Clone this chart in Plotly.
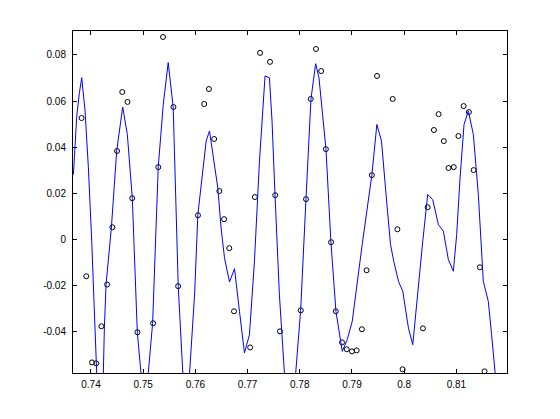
import plotly.graph_objects as go

# fitted curve (blue line)
line_x = [0.73664, 0.73728, 0.73779, 0.73823, 0.73887, 0.73951, 0.74015, 0.74059, 0.74110, 0.74174,
          0.74237, 0.74257, 0.74289, 0.74391, 0.74493, 0.74608, 0.74697, 0.74792, 0.74888, 0.74958,
          0.75028, 0.75098, 0.75181, 0.75289, 0.75385, 0.75480, 0.75576, 0.75672, 0.75723, 0.75742,
          0.75799, 0.75889, 0.75985, 0.76048, 0.76143, 0.76207, 0.76271, 0.76335, 0.76430, 0.76493,
          0.76558, 0.76654, 0.76750, 0.76845, 0.76941, 0.77036, 0.77132, 0.77228, 0.77335, 0.77419,
          0.77469, 0.77526, 0.77610, 0.77706, 0.77800, 0.77922, 0.78017, 0.78119, 0.78215, 0.78304,
          0.78368, 0.78502, 0.78597, 0.78693, 0.78814, 0.78910, 0.79005, 0.79196, 0.79381, 0.79477,
          0.79566, 0.79642, 0.79738, 0.79801, 0.79866, 0.79891, 0.79973, 0.80082, 0.80165, 0.80254,
          0.80356, 0.80451, 0.80547, 0.80656, 0.80751, 0.80847, 0.80943, 0.81006, 0.81071, 0.81147,
          0.81229, 0.81325, 0.81421, 0.81516, 0.81612, 0.81675, 0.81740, 0.81900]
line_y = [0.0281, 0.0535, 0.0636, 0.0701, 0.0557, 0.0310, -0.0009, -0.0270, -0.0581, -0.0750,
          -0.0581, -0.0386, -0.0197, 0.0049, 0.0383, 0.0574, 0.0455, 0.0178, -0.0404, -0.0581,
          -0.0750, -0.0581, -0.0365, 0.0313, 0.0585, 0.0767, 0.0571, -0.0204, -0.0473, -0.0581,
          -0.0750, -0.0581, -0.0241, 0.0107, 0.0310, 0.0426, 0.0470, 0.0368, 0.0223, 0.0049,
          -0.0081, -0.0186, -0.0128, -0.0313, -0.0494, -0.0415, -0.0096, 0.0339, 0.0709, 0.0701,
          0.0513, 0.0191, -0.0241, -0.0581, -0.0750, -0.0581, -0.0309, 0.0174, 0.0609, 0.0762,
          0.0701, 0.0391, -0.0013, -0.0313, -0.0487, -0.0436, -0.0357, -0.0023, 0.0278, 0.0498,
          0.0426, 0.0223, -0.0023, -0.0096, -0.0154, -0.0183, -0.0226, -0.0386, -0.0458, -0.0241,
          -0.0009, 0.0194, 0.0172, 0.0063, 0.0035, -0.0089, -0.0139, 0.0020, 0.0267, 0.0498,
          0.0557, 0.0455, 0.0194, -0.0183, -0.0270, -0.0415, -0.0574, -0.0750]

# measured samples (black circles)
obs_x = [0.7382, 0.7391, 0.7402, 0.7410, 0.7420, 0.7431, 0.7441, 0.7450, 0.7460, 0.7470,
         0.7479, 0.7489, 0.7519, 0.7529, 0.7538, 0.7558, 0.7567, 0.7605, 0.7617, 0.7626,
         0.7636, 0.7646, 0.7655, 0.7665, 0.7674, 0.7705, 0.7714, 0.7724, 0.7743, 0.7753,
         0.7762, 0.7802, 0.7812, 0.7821, 0.7831, 0.7841, 0.7850, 0.7860, 0.7869, 0.7881,
         0.7890, 0.7900, 0.7909, 0.7919, 0.7928, 0.7938, 0.7948, 0.7978, 0.7987, 0.7997,
         0.8036, 0.8045, 0.8057, 0.8066, 0.8076, 0.8085, 0.8095, 0.8104, 0.8114, 0.8124,
         0.8133, 0.8145, 0.8154]
obs_y = [0.0526, -0.0161, -0.0535, -0.0539, -0.0378, -0.0197, 0.0052, 0.0383, 0.0639, 0.0596,
         0.0178, -0.0404, -0.0365, 0.0313, 0.0878, 0.0574, -0.0204, 0.0104, 0.0587, 0.0652,
         0.0435, 0.0209, 0.0087, -0.0039, -0.0313, -0.0470, 0.0183, 0.0809, 0.0770, 0.0191,
         -0.0400, -0.0309, 0.0174, 0.0609, 0.0826, 0.0730, 0.0391, -0.0013, -0.0313, -0.0448,
         -0.0478, -0.0487, -0.0483, -0.0391, -0.0135, 0.0278, 0.0709, 0.0609, 0.0043, -0.0565,
         -0.0387, 0.0139, 0.0474, 0.0543, 0.0426, 0.0309, 0.0313, 0.0448, 0.0578, 0.0552,
         0.0300, -0.0122, -0.0574]

xtick_vals = [0.74, 0.75, 0.76, 0.77, 0.78, 0.79, 0.80, 0.81]
xtick_text = ["0.74", "0.75", "0.76", "0.77", "0.78", "0.79", "0.8", "0.81"]
ytick_vals = [-0.04, -0.02, 0, 0.02, 0.04, 0.06, 0.08]
ytick_text = ["-0.04", "-0.02", "0", "0.02", "0.04", "0.06", "0.08"]

fig = go.Figure()
fig.add_trace(go.Scatter(x=obs_x, y=obs_y, mode="markers",
                         marker=dict(symbol="circle-open", size=5, color="black",
                                     line=dict(width=1, color="black"))))
fig.add_trace(go.Scatter(x=line_x, y=line_y, mode="lines",
                         line=dict(color="#0000ff", width=1)))

axis_style = dict(showline=True, linecolor="black", linewidth=1, mirror="ticks",
                  ticks="inside", ticklen=4, tickcolor="black", tickwidth=1,
                  showgrid=False, zeroline=False,
                  tickfont=dict(family="Liberation Sans", size=10, color="black"))

fig.update_xaxes(range=[0.73656, 0.8197], tickvals=xtick_vals, ticktext=xtick_text,
                 ticklabelstandoff=2, **axis_style)
fig.update_yaxes(range=[-0.0581, 0.0904], tickvals=ytick_vals, ticktext=ytick_text,
                 ticklabelstandoff=4, **axis_style)

# the page body adds an 8px margin, so the figure is shrunk by that much
fig.update_layout(width=552, height=411, showlegend=False,
                  margin=dict(l=65, r=53, t=23, b=46),
                  plot_bgcolor="white", paper_bgcolor="white")

fig.write_html("out.html")
